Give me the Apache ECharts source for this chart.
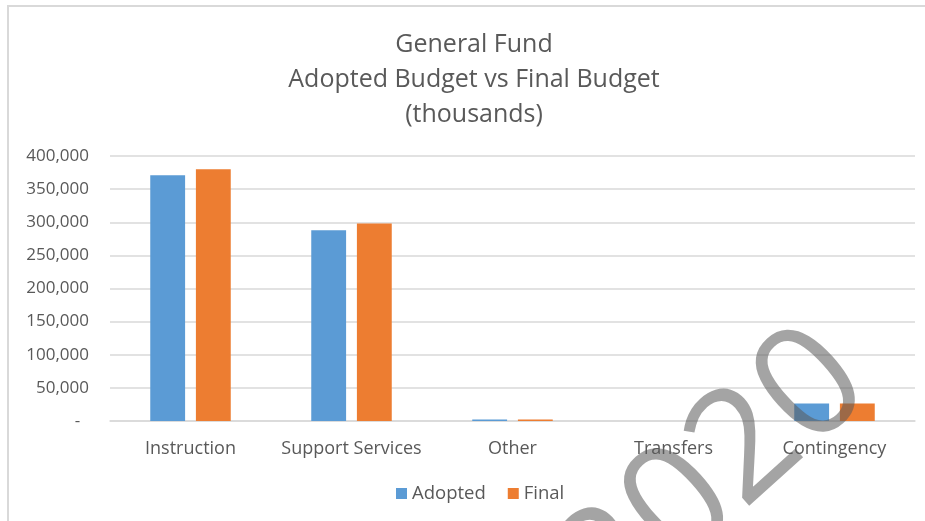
<!DOCTYPE html>
<html>
<head>
<meta charset="utf-8">
<title>General Fund</title>
<script src="https://cdn.jsdelivr.net/npm/echarts@6/dist/echarts.min.js"></script>
<style>
  html, body { margin: 0; padding: 0; background: #fff; }
  #chart { width: 925px; height: 521px; }
</style>
</head>
<body>
<div id="chart"></div>
<script>
// values in thousands
const categories = ['Instruction', 'Support Services', 'Other', 'Transfers', 'Contingency']
const adopted = [371000, 288000, 2300, 0, 26500]
const finalBudget = [380000, 298000, 2300, 0, 26500]
const titleLines = ['General Fund', 'Adopted Budget vs Final Budget', '(thousands)']

const textColor = '#595959'
const font = 'Open Sans'

const chart = echarts.init(document.getElementById('chart'))

chart.setOption({
  animation: false,
  color: ['#5b9bd5', '#ed7d31'],
  title: {
    text: titleLines.join('\n'),
    left: 469,
    textAlign: 'center',
    top: 22,
    textStyle: {
      color: textColor,
      fontFamily: font,
      fontWeight: 'normal',
      fontSize: 25,
      lineHeight: 35
    }
  },
  legend: {
    bottom: 13,
    left: 391,
    itemWidth: 11,
    itemHeight: 11,
    itemGap: 22,
    icon: 'rect',
    textStyle: { color: textColor, fontFamily: font, fontSize: 18.5 }
  },
  grid: { left: 110, right: 10, top: 156, bottom: 100 },
  xAxis: {
    type: 'category',
    data: categories,
    axisLine: { lineStyle: { color: '#d9d9d9', width: 1.5 } },
    axisTick: { show: false },
    axisLabel: { color: textColor, fontFamily: font, fontSize: 18, margin: 19, interval: 0 }
  },
  yAxis: {
    type: 'value',
    min: 0,
    max: 400000,
    interval: 50000,
    axisLine: { show: false },
    axisTick: { show: false },
    splitLine: { lineStyle: { color: '#d9d9d9', width: 1.5 } },
    axisLabel: {
      color: textColor,
      fontFamily: font,
      fontSize: 17,
      margin: 21,
      formatter: v => v === 0 ? '-  ' : v.toLocaleString('en-US')
    }
  },
  series: [
    { name: 'Adopted', type: 'bar', data: adopted, barGap: '31%', barCategoryGap: '50%' },
    { name: 'Final', type: 'bar', data: finalBudget, barGap: '31%', barCategoryGap: '50%' }
  ],
  graphic: [
    {
      type: 'rect',
      shape: { x: 8, y: 6, width: 940, height: 540 },
      style: { fill: 'none', stroke: '#d9d9d9', lineWidth: 2 },
      silent: true
    },
    {
      // scanned watermark
      type: 'text',
      x: 714,
      y: 478,
      rotation: 42 * Math.PI / 180,
      z: 100,
      style: {
        text: '2020',
        font: '400 155px "Open Sans"',
        fill: 'rgba(90,90,90,0.55)',
        align: 'center',
        verticalAlign: 'middle'
      },
      silent: true
    }
  ]
})
</script>
</body>
</html>
